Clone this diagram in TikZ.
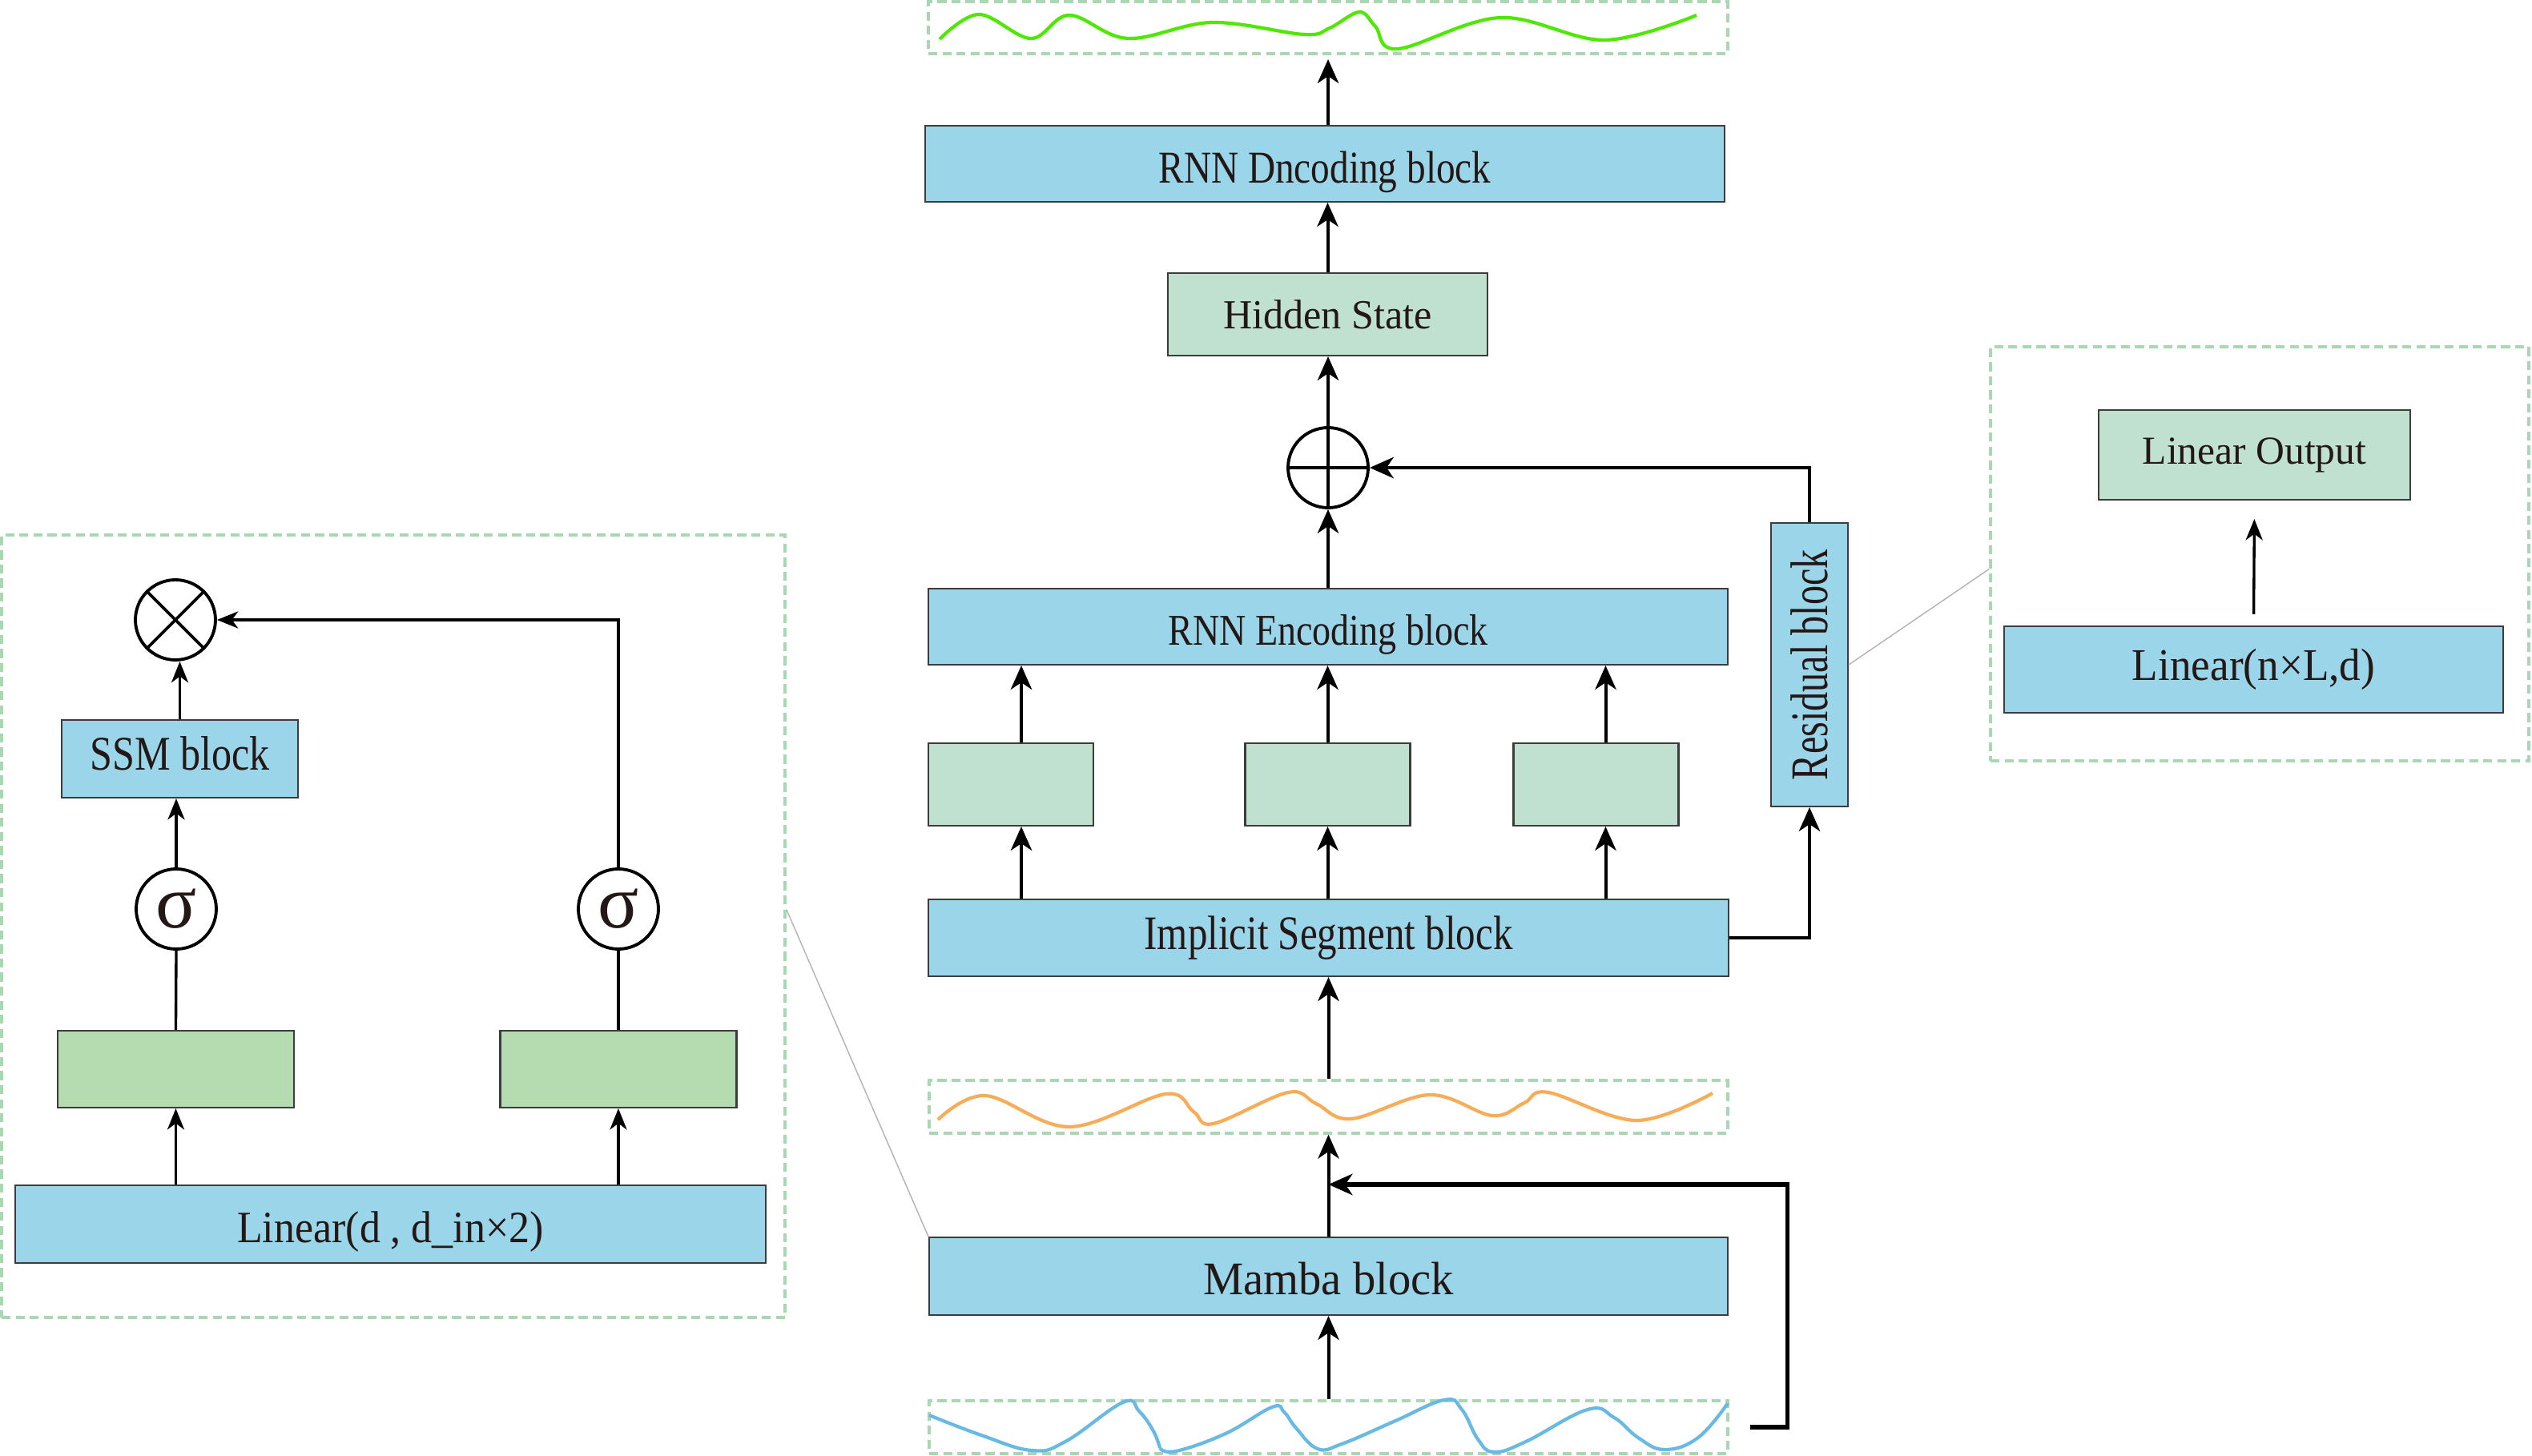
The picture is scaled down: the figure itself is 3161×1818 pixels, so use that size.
\documentclass[tikz,border=0pt]{standalone}
\usepackage{fontspec}
\setmainfont{Liberation Serif}
\usepackage{graphicx}
\usetikzlibrary{arrows.meta}

\definecolor{blk}{RGB}{155,213,233}
\definecolor{hgreen}{RGB}{192,225,207}
\definecolor{mgreen}{RGB}{181,219,176}
\definecolor{dgreen}{RGB}{168,215,178}
\definecolor{wgreen}{RGB}{78,232,4}
\definecolor{worange}{RGB}{247,172,88}
\definecolor{wblue}{RGB}{104,185,227}
\definecolor{edge}{RGB}{60,60,60}
\definecolor{txt}{RGB}{35,24,21}

% size, horizontal squeeze, text
\newcommand{\lbl}[3]{\fontsize{#1}{#1}\selectfont\scalebox{#2}[1]{#3}}

\begin{document}
\begin{tikzpicture}[x=0.1mm, y=-0.1mm, text=txt,
    blue box/.style={draw=edge, line width=0.6pt, fill=blk, inner sep=0pt},
    green box/.style={draw=edge, line width=0.6pt, fill=hgreen, inner sep=0pt},
    gate box/.style={draw=edge, line width=0.6pt, fill=mgreen, inner sep=0pt},
    wave box/.style={draw=dgreen, line width=1pt, dash pattern=on 3.2pt off 1.8pt, inner sep=0pt},
    txtline/.style={text height=#1, text depth=0pt},
    op/.style={circle, draw, line width=1.1pt, minimum size=1cm, inner sep=0pt},
    sig/.style={op, font=\fontsize{27pt}{27pt}\selectfont},
    arr/.style={-{Stealth[length=8.5pt, width=7.5pt, inset=2.5pt]}, line width=1.15pt},
    sarr/.style={-{Stealth[length=7.5pt, width=6pt, inset=2.2pt]}, line width=0.95pt},
    zoomline/.style={black!30, line width=0.4pt}]
    \useasboundingbox (0,0) rectangle (3161,1818);

    % Main column
    \node[wave box, minimum width=9.98cm, minimum height=0.65cm] (wTop) at (1658,34.5) {};
    \node[blue box, txtline=13.4pt, minimum width=9.98cm, minimum height=0.95cm] (dec) at (1654,204.5) {\lbl{16.2pt}{0.83}{RNN Dncoding block}};
    \node[green box, minimum width=3.99cm, minimum height=1.03cm] (hid) at (1657.5,392.5) {\lbl{14.7pt}{0.97}{Hidden State}};
    \node[op] (add) at (1658,584) {};
    \node[blue box, txtline=13.2pt, minimum width=9.98cm, minimum height=0.95cm] (enc) at (1658,782.5) {\lbl{15.6pt}{0.84}{RNN Encoding block}};
    \foreach \n/\x in {g1/1262, g2/1657.5, g3/1992.5}
        \node[green box, minimum width=2.06cm, minimum height=1.03cm] (\n) at (\x,979.5) {};
    \node[blue box, minimum width=9.99cm, minimum height=0.96cm] (seg) at (1658.5,1171) {\lbl{17.1pt}{0.815}{Implicit Segment block}};
    \node[blue box, rotate=90, minimum width=3.54cm, minimum height=0.96cm] (res) at (2259,830) {\lbl{18.8pt}{0.73}{Residual block}};
    \node[wave box, minimum width=9.97cm, minimum height=0.66cm] (wMid) at (1658.5,1382) {};
    \node[blue box, txtline=12.8pt, minimum width=9.97cm, minimum height=0.97cm] (mamba) at (1658.5,1593.5) {\lbl{16.6pt}{0.97}{Mamba block}};
    \node[wave box, minimum width=9.97cm, minimum height=0.66cm] (wBot) at (1658.5,1782) {};

    % Waves
    \draw[wgreen, line width=1.2pt] plot[smooth, tension=0.6] coordinates {(1173,49) (1222,18) (1287,48) (1335,19) (1408,48) (1513,28) (1628,43) (1660,35) (1697,15) (1717,33) (1745,61) (1873,22) (2003,50) (2118,19)};
    \draw[worange, line width=1.2pt] plot[smooth, tension=0.6] coordinates {(1171,1398) (1230,1368) (1335,1407) (1455,1366) (1490,1388) (1515,1403) (1608,1364) (1643,1378) (1687,1397) (1785,1367) (1863,1393) (1903,1377) (1933,1364) (2043,1399) (2138,1365)};
    \draw[wblue, line width=1.2pt] plot[smooth, tension=0.7] coordinates {(1160,1767) (1225,1792) (1288,1811) (1330,1800) (1402,1751) (1422,1762) (1440,1787) (1448,1808)};
    \draw[wblue, line width=1.2pt] plot[smooth, tension=0.7] coordinates {(1448,1808) (1468,1812) (1530,1790) (1588,1757) (1603,1763) (1618,1783) (1645,1809) (1675,1803) (1740,1775) (1803,1748) (1825,1760) (1845,1797) (1865,1813) (1905,1800) (1982,1760) (2015,1770) (2045,1795) (2078,1810) (2120,1795) (2157,1752)};

    % Main arrows
    \draw[arr, shorten >=1.5pt] (wTop.south |- dec.north) -- (wTop.south);
    \draw[arr] (hid.north) -- (hid.north |- dec.south);
    \draw[arr] (add.north) -- (add.north |- hid.south);
    \draw[line width=1.1pt] (add.north) -- (add.south) (add.west) -- (add.east);
    \draw[arr] (enc.north) -- (add.south);
    \foreach \n/\s in {g1/0.13cm, g2/0cm, g3/0.12cm} {
        \draw[arr] ([xshift=\s]\n.north) -- ([xshift=\s]\n.north |- enc.south);
        \draw[arr] ([xshift=\s]\n.south |- seg.north) -- ([xshift=\s]\n.south);
    }
    \draw[arr] (wMid.north) -- (seg.south);
    \draw[arr] (mamba.north) -- (wMid.south);
    \draw[arr] (wBot.north) -- (mamba.south);
    \draw[arr, line width=1.5pt] ([xshift=0.26cm]wBot.east) -- ++(47,0) |- ([yshift=0.65cm]mamba.north);

    % Residual path
    \draw[arr] (seg.east) -| (res.west);
    \draw[arr] (res.east) |- (add.east);

    % Left panel: Mamba block detail
    \node[wave box, minimum width=9.78cm, minimum height=9.77cm] (lpanel) at (491,1156.5) {};
    \node[op] (mul) at (219,774) {};
    \draw[line width=1.1pt] (mul.north west) -- (mul.south east) (mul.north east) -- (mul.south west);
    \node[blue box, txtline=8pt, minimum width=2.95cm, minimum height=0.97cm] (ssm) at (224.5,947.5) {\lbl{17.2pt}{0.83}{SSM block}};
    \node[sig] (sg1) at (220,1135) {σ};
    \node[sig] (sg2) at (772,1135) {σ};
    \node[gate box, minimum width=2.95cm, minimum height=0.96cm] (lg1) at (219.5,1335) {};
    \node[gate box, minimum width=2.95cm, minimum height=0.96cm] (lg2) at (772,1335) {};
    \node[blue box, txtline=13.2pt, minimum width=9.37cm, minimum height=0.97cm] (lin) at (487.5,1528.5) {\lbl{15.9pt}{0.93}{Linear(d , d\_in×2)}};

    \draw[sarr] (lg1.south |- lin.north) -- (lg1.south);
    \draw[sarr] (lg2.south |- lin.north) -- (lg2.south);
    \draw[line width=0.95pt] (lg1.north) -- (sg1.south);
    \draw[line width=0.95pt] (lg2.north) -- (sg2.south);
    \draw[sarr] (sg1.north) -- (sg1.north |- ssm.south);
    \draw[sarr] (ssm.north) -- (ssm.north |- mul.south);
    \draw[sarr] (sg2.north) |- (mul.east);

    % Right panel: Residual block detail
    \node[wave box, minimum width=6.72cm, minimum height=5.17cm] (rpanel) at (2821,691.5) {};
    \node[green box, minimum width=3.89cm, minimum height=1.12cm] (lout) at (2814.5,568) {\lbl{14.1pt}{1.0}{Linear Output}};
    \node[blue box, minimum width=6.23cm, minimum height=1.08cm] (lnl) at (2813.5,836) {\lbl{16.1pt}{0.94}{Linear(n×L,d)}};
    \draw[sarr, shorten <=0.14cm, shorten >=0.23cm] (lnl.north) -- (lout.south);

    % Zoom lines
    \draw[zoomline] (res.south) -- ([yshift=-0.19cm]rpanel.west);
    \draw[zoomline] ([yshift=0.21cm]lpanel.east) -- (mamba.north west);
\end{tikzpicture}
\end{document}
